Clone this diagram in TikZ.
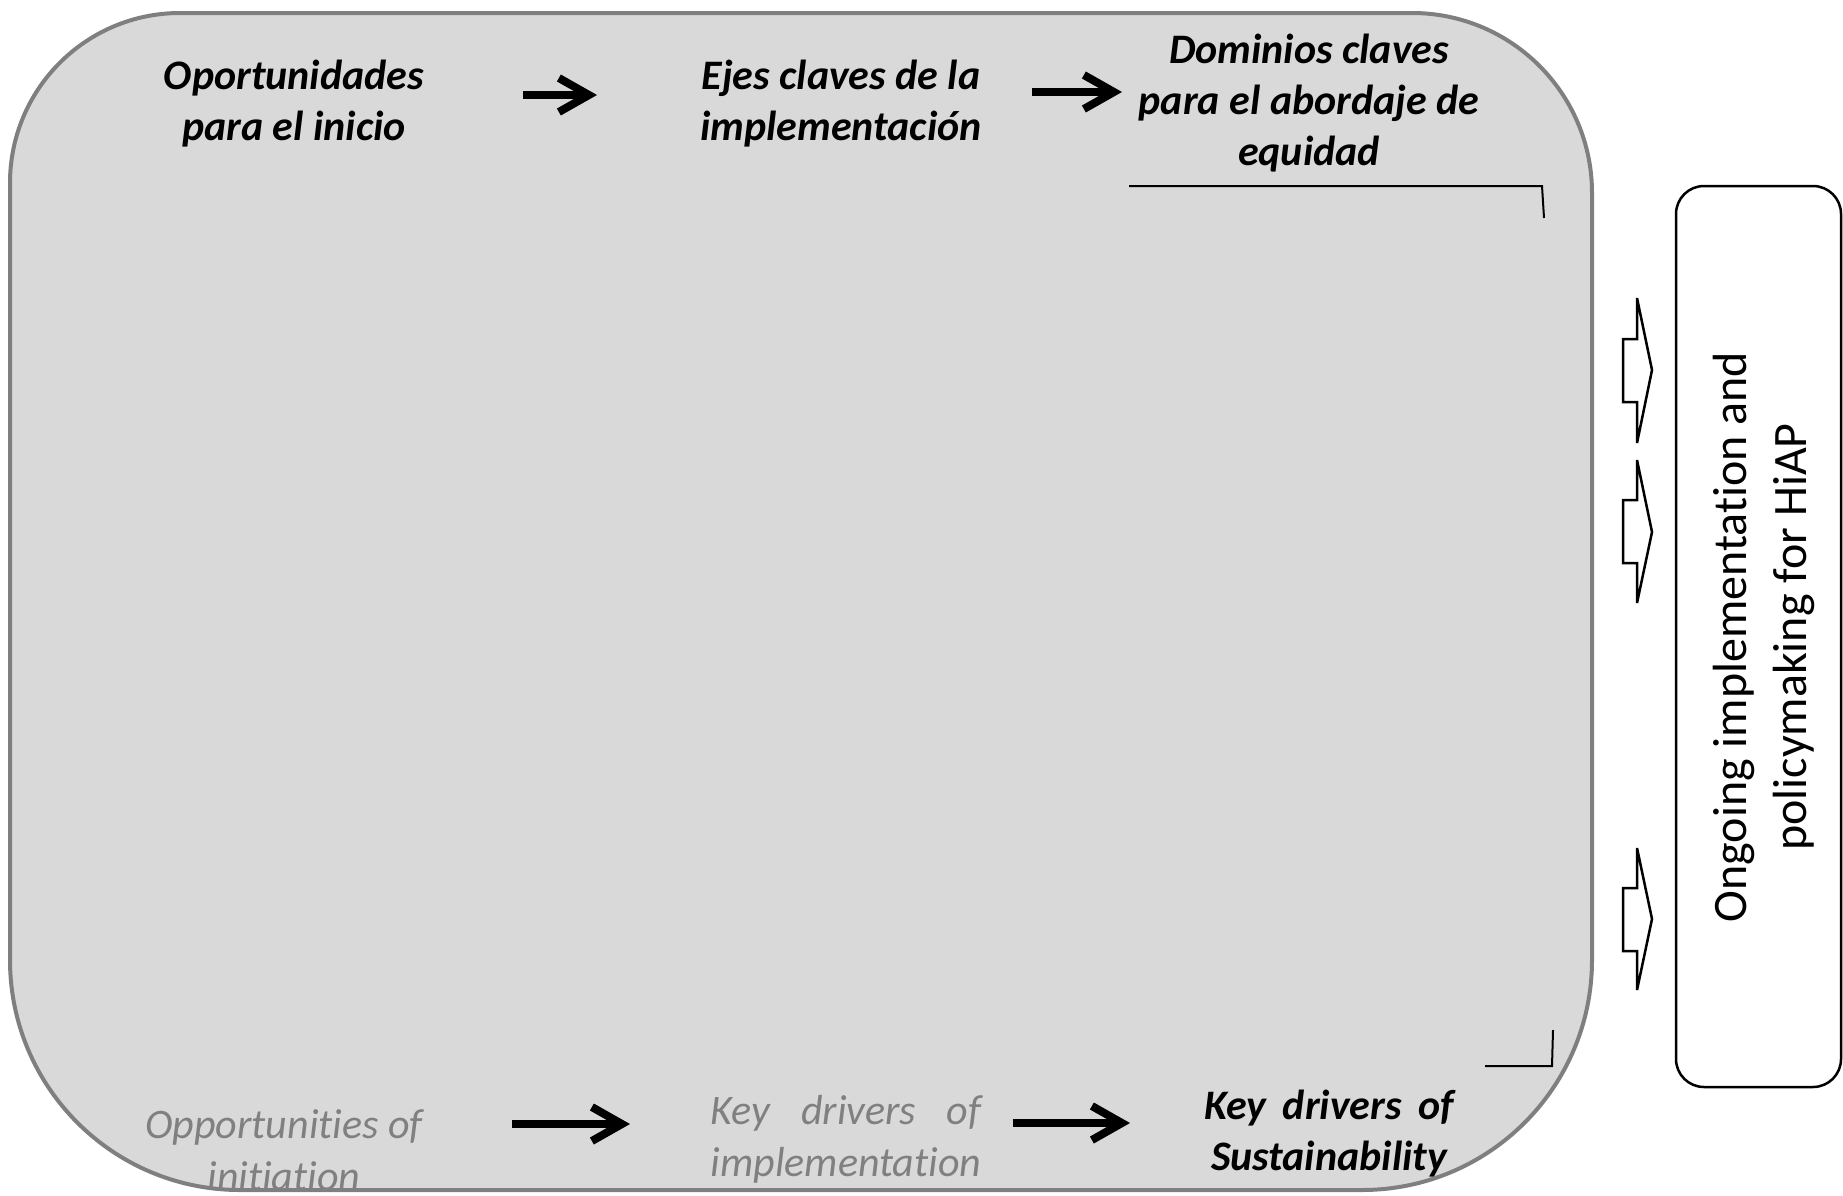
\documentclass[tikz,border=0pt]{standalone}
\usepackage{fontspec}
\setmainfont{Carlito}[Ligatures=NoCommon]
\usepackage{calc}
\usetikzlibrary{arrows.meta}
\definecolor{boxgray}{HTML}{D9D9D9}
\definecolor{edgegray}{HTML}{7F7F7F}
\definecolor{textgray}{HTML}{808080}
\begin{document}
\begin{tikzpicture}[x=1pt,y=-1pt,
  lbl/.style={font=\fontsize{42}{51}\selectfont\bfseries\itshape, align=center, inner sep=0pt},
  lblg/.style={font=\fontsize{42}{52}\selectfont\itshape, text=textgray, align=center, inner sep=0pt},
  flow/.style={line width=8pt, -{Straight Barb[length=30pt,width=34pt]}},
  blockarrow/.style={draw=black, line width=2.5pt, fill=white, line join=miter, miter limit=3},
  bracket/.style={draw=black, line width=2pt},
  sidebox/.style={draw=black, line width=2.5pt, fill=white, rounded corners=28pt, inner sep=0pt,
    minimum width=901pt, minimum height=165pt, rotate=90}]
\useasboundingbox (0,0) rectangle (1843,1195);

% main grey panel
\draw[fill=boxgray, draw=edgegray, line width=4pt]
  (10,183) .. controls (10,89.1) and (86.1,13) .. (180,13)
  -- (1412,13) .. controls (1511.4,13) and (1592,93.6) .. (1592,193)
  -- (1592,960) .. controls (1592,1087) and (1489,1190) .. (1362,1190)
  -- (240,1190) .. controls (113,1190) and (10,1087) .. (10,960) -- cycle;

% right box
\node[sidebox] (hiap) at (1758.5,636.5) {};
\node[rotate=90, align=center, inner sep=0pt, font=\fontsize{48}{60}\selectfont] (hiapt) at (1764,637)
  {Ongoing implementation and\\policymaking for HiAP};

% block arrows
\draw[blockarrow] (1623,339) -- (1637,339) -- (1637,298) -- (1652,370) -- (1637,443) -- (1637,402) -- (1623,402) -- cycle;
\draw[blockarrow] (1623,500) -- (1637,500) -- (1637,460) -- (1652,532) -- (1637,603) -- (1637,563) -- (1623,563) -- cycle;
\draw[blockarrow] (1623,888) -- (1637,888) -- (1637,848) -- (1652,919) -- (1637,990) -- (1637,951) -- (1623,951) -- cycle;

% brackets
\draw[bracket] (1129,186) -- (1542,186) -- (1544,218);
\draw[bracket] (1485,1066) -- (1552,1066) -- (1553,1030);

% top labels
\node[lbl] (opp) at (294,103.5) {Oportunidades\\para el inicio};
\node[lbl] (ejes) at (841,103.5) {Ejes claves de la\\implementación};
\node[lbl] (dom) at (1309,103.5) {Dominios claves\\para el abordaje de\\equidad};

% bottom labels
\node[lblg] (oppe) at (284,1150) {Opportunities of\\initiation};
\node[lblg] (kdi) at (846,1139.5) {\makebox[\widthof{implementation}][s]{Key drivers of}\\implementation};
\node[lbl] (kds) at (1329,1134) {\makebox[\widthof{Sustainability}+14pt][s]{Key drivers of}\\Sustainability};

% arrows
\coordinate (t1a) at (523,95);
\coordinate (t1b) at (597,95);
\coordinate (t2a) at (1032,92);
\coordinate (t2b) at (1122,92);
\coordinate (b1a) at (512,1124);
\coordinate (b1b) at (630,1124);
\coordinate (b2a) at (1013,1123);
\coordinate (b2b) at (1130,1123);
\draw[flow] (t1a) -- (t1b);
\draw[flow] (t2a) -- (t2b);
\draw[flow] (b1a) -- (b1b);
\draw[flow] (b2a) -- (b2b);
\end{tikzpicture}
\end{document}
